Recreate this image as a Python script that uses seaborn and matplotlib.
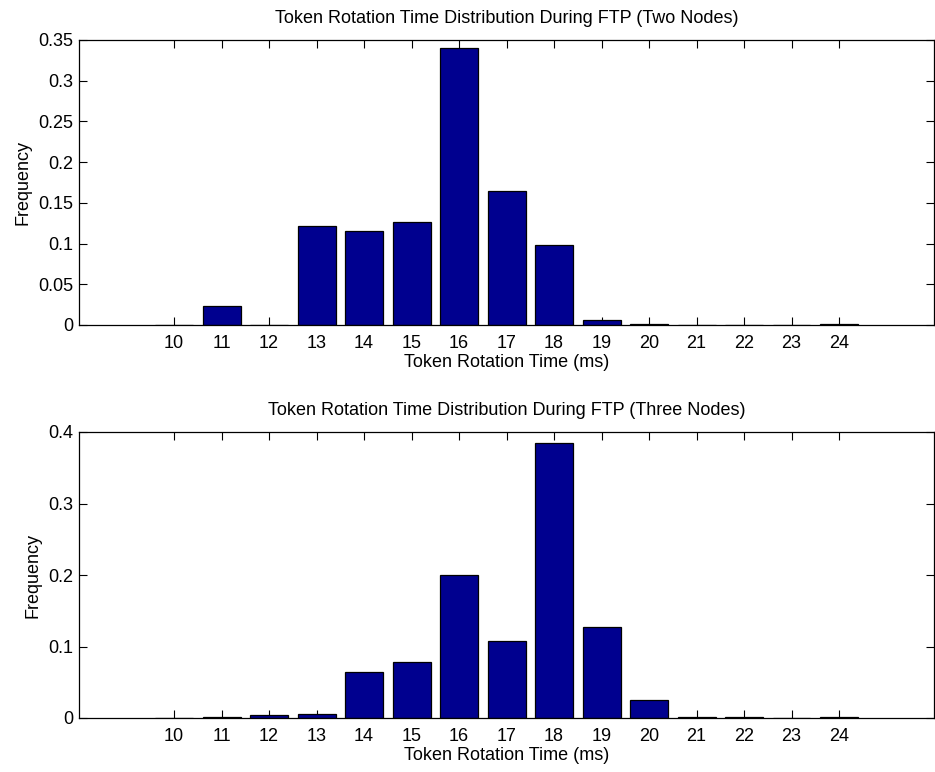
import matplotlib
matplotlib.use("Agg")
import matplotlib.pyplot as plt
import seaborn as sns
import numpy as np

times = [10, 11, 12, 13, 14, 15, 16, 17, 18, 19, 20, 21, 22, 23, 24]
freq_two = [0.0005, 0.0233, 0.0005, 0.122, 0.116, 0.127, 0.340, 0.165, 0.0985,
            0.0057, 0.001, 0.0005, 0.0005, 0.0005, 0.001]
freq_three = [0.0005, 0.0015, 0.0042, 0.0056, 0.065, 0.079, 0.200, 0.108, 0.384,
              0.127, 0.025, 0.002, 0.001, 0.0005, 0.001]
titles = ["Token Rotation Time Distribution During FTP (Two Nodes)",
          "Token Rotation Time Distribution During FTP (Three Nodes)"]
xlabel = "Token Rotation Time (ms)"
ylabel = "Frequency"
yticks_top = [0, 0.05, 0.1, 0.15, 0.2, 0.25, 0.3, 0.35]
ytick_labels_top = ["0", "0.05", "0.1", "0.15", "0.2", "0.25", "0.3", "0.35"]
yticks_bot = [0, 0.1, 0.2, 0.3, 0.4]
ytick_labels_bot = ["0", "0.1", "0.2", "0.3", "0.4"]

sns.set_style("white")
plt.rcParams['font.family'] = ['Liberation Sans', 'DejaVu Sans']
plt.rcParams['text.color'] = 'black'
plt.rcParams['axes.labelcolor'] = 'black'
plt.rcParams['xtick.color'] = 'black'
plt.rcParams['ytick.color'] = 'black'

W, H = 935, 772
fig = plt.figure(figsize=(W / 100, H / 100), dpi=100)

def px_axes(left, top, right, bottom):
    return fig.add_axes([left / W, 1 - bottom / H, (right - left) / W, (bottom - top) / H])

ax1 = px_axes(79, 40, 934, 325)
ax2 = px_axes(79, 432, 934, 718)

fs = 13
for ax, vals, title, yt, ytl, ymax in [
        (ax1, freq_two, titles[0], yticks_top, ytick_labels_top, 0.35),
        (ax2, freq_three, titles[1], yticks_bot, ytick_labels_bot, 0.4)]:
    sns.barplot(x=times, y=vals, native_scale=True, color="#00008F", saturation=1,
                edgecolor="black", linewidth=0.9, width=0.8, ax=ax)
    ax.set_xlim(8, 26)
    ax.set_ylim(0, ymax)
    ax.set_xticks(times)
    ax.set_xticklabels([str(t) for t in times], fontsize=fs, color="black")
    ax.set_yticks(yt)
    ax.set_yticklabels(ytl, fontsize=fs, color="black")
    ax.tick_params(direction="in", length=6, width=0.8, top=True, right=True,
                   bottom=True, left=True, colors="black", pad=4)
    ax.tick_params(axis="x", pad=7)
    for s in ax.spines.values():
        s.set_visible(True)
        s.set_color("black")
        s.set_linewidth(0.9)
    ax.set_title(title, fontsize=fs, pad=12, color="black")
    ax.set_xlabel(xlabel, fontsize=fs, labelpad=2, color="black")
    ax.set_ylabel(ylabel, fontsize=fs, labelpad=5, color="black")
    ax.grid(False)

fig.savefig("out.png", dpi=100)
